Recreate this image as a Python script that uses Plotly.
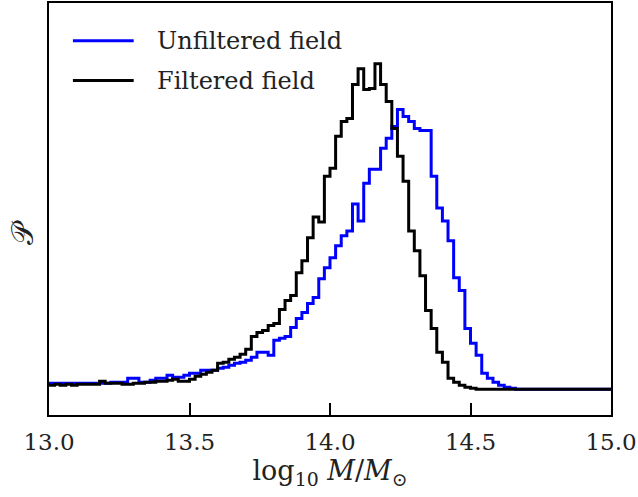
import plotly.graph_objects as go

# Histogram bins (log10 M), bin width 0.02 from 13.0 to 15.0
bin_start = 13.0
bin_width = 0.02
n_bins = 100

# Normalised probability (arbitrary units)
filtered = [
    0.04, 0.05, 0.04, 0.05, 0.04, 0.05, 0.05, 0.05, 0.05, 0.08,
    0.06, 0.06, 0.06, 0.05, 0.05, 0.06, 0.06, 0.07, 0.07, 0.08,
    0.08, 0.09, 0.10, 0.08, 0.08, 0.10, 0.13, 0.15, 0.17, 0.19,
    0.26, 0.27, 0.30, 0.32, 0.35, 0.40, 0.53, 0.57, 0.59, 0.64,
    0.66, 0.80, 0.89, 0.94, 1.17, 1.29, 1.52, 1.73, 1.68, 2.14,
    2.22, 2.54, 2.69, 2.72, 3.06, 3.22, 3.01, 3.02, 3.27, 3.06,
    2.89, 2.62, 2.34, 2.09, 1.59, 1.39, 1.14, 0.79, 0.61, 0.37,
    0.27, 0.11, 0.07, 0.04, 0.02, 0.01, 0, 0, 0, 0,
    0, 0, 0, 0, 0, 0, 0, 0, 0, 0,
    0, 0, 0, 0, 0, 0, 0, 0, 0, 0,
]

unfiltered = [
    0.06, 0.06, 0.06, 0.06, 0.06, 0.06, 0.06, 0.06, 0.06, 0.06,
    0.06, 0.07, 0.07, 0.07, 0.11, 0.11, 0.07, 0.07, 0.09, 0.11,
    0.11, 0.14, 0.12, 0.12, 0.14, 0.16, 0.16, 0.19, 0.19, 0.19,
    0.21, 0.22, 0.24, 0.26, 0.27, 0.29, 0.32, 0.37, 0.37, 0.34,
    0.49, 0.51, 0.53, 0.62, 0.71, 0.77, 0.86, 0.92, 1.11, 1.22,
    1.32, 1.44, 1.54, 1.59, 1.86, 1.69, 2.07, 2.21, 2.21, 2.42,
    2.52, 2.64, 2.81, 2.74, 2.69, 2.62, 2.60, 2.60, 2.14, 1.82,
    1.69, 1.49, 1.12, 0.99, 0.61, 0.46, 0.34, 0.16, 0.11, 0.07,
    0.04, 0.02, 0.01, 0, 0, 0, 0, 0, 0, 0,
    0, 0, 0, 0, 0, 0, 0, 0, 0, 0,
]

x_ticks = [13.0, 13.5, 14.0, 14.5, 15.0]
x_tick_labels = ["13.0", "13.5", "14.0", "14.5", "15.0"]

edges = [round(bin_start + i * bin_width, 4) for i in range(n_bins + 1)]

def step_y(vals):
    return list(vals) + [vals[-1]]

FONT = "DejaVu Serif"

fig = go.Figure()
fig.add_trace(go.Scatter(
    x=edges, y=step_y(unfiltered), mode="lines", line_shape="hv",
    line=dict(color="#0000ff", width=3), name="Unfiltered field",
    showlegend=False, hoverinfo="skip"))
fig.add_trace(go.Scatter(
    x=edges, y=step_y(filtered), mode="lines", line_shape="hv",
    line=dict(color="#000000", width=3), name="Filtered field",
    showlegend=False, hoverinfo="skip"))

# Manual legend (long matplotlib-style handles)
L, R, T, B = 49, 25, 1, 82
W, H = 638 - L - R, 497 - T - B
def px(xp):
    return (xp - L) / W
def py(yp):
    return (497 - B - yp) / H

legend_items = [("Unfiltered field", "#0000ff", 39), ("Filtered field", "#000000", 79)]
for label, color, ypix in legend_items:
    fig.add_shape(type="line", xref="paper", yref="paper",
                  x0=px(73), x1=px(134), y0=py(ypix), y1=py(ypix),
                  line=dict(color=color, width=3))
    fig.add_annotation(xref="paper", yref="paper", x=px(155), y=py(ypix),
                       text=label, showarrow=False, xanchor="left", yanchor="middle",
                       font=dict(family=FONT, size=24, color="#222222"))

# y-axis label
fig.add_annotation(xref="paper", yref="paper", x=px(23), y=py(232),
                   text="𝒫", showarrow=False, textangle=-90,
                   xanchor="center", yanchor="middle",
                   font=dict(family=FONT, size=30, color="#222222"))

fig.update_layout(
    width=638, height=497,
    margin=dict(l=L, r=R, t=T, b=B),
    paper_bgcolor="white", plot_bgcolor="white",
    font=dict(family=FONT, size=23, color="#222222"),
    xaxis=dict(
        range=[13.0, 15.0], tickvals=x_ticks, ticktext=x_tick_labels,
        ticks="inside", ticklen=12, tickwidth=1.5, tickcolor="black",
        tickfont=dict(family=FONT, size=23), ticklabeloverflow="allow",
        showline=True, linecolor="black", linewidth=1.5, mirror=True,
        showgrid=False, zeroline=False, ticklabelstandoff=6,
        title=dict(text="log<sub>10</sub> <i>M</i>/<i>M</i><sub>⊙</sub>",
                   font=dict(family=FONT, size=27), standoff=6),
    ),
    yaxis=dict(
        range=[-0.26, 3.88], showticklabels=False, ticks="",
        showline=True, linecolor="black", linewidth=1.5, mirror=True,
        showgrid=False, zeroline=False,
    ),
)

fig.write_html("out.html")
